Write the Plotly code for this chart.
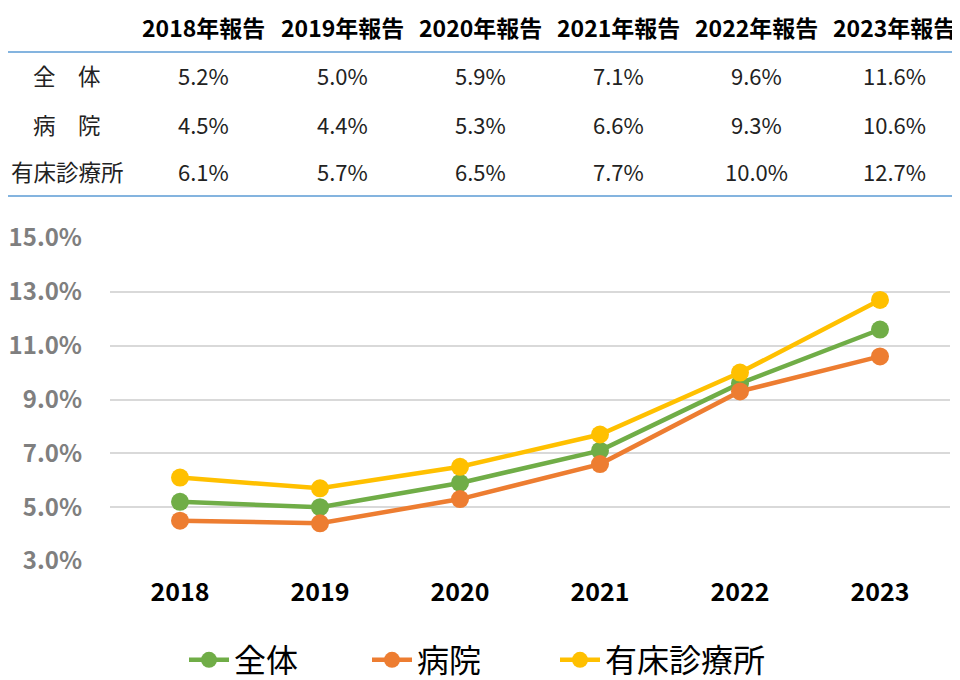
import plotly.graph_objects as go

years = ["2018", "2019", "2020", "2021", "2022", "2023"]
header_labels = ["2018年報告", "2019年報告", "2020年報告", "2021年報告", "2022年報告", "2023年報告"]
series_names = ["全体", "病院", "有床診療所"]
row_labels = ["全　体", "病　院", "有床診療所"]
zentai = [5.2, 5.0, 5.9, 7.1, 9.6, 11.6]
byoin = [4.5, 4.4, 5.3, 6.6, 9.3, 10.6]
yusho = [6.1, 5.7, 6.5, 7.7, 10.0, 12.7]
y_ticks = [3, 5, 7, 9, 11, 13, 15]

colors = ["#70AD47", "#ED7D31", "#FFC000"]
all_series = [zentai, byoin, yusho]
legend_ids = ["legend", "legend2", "legend3"]

# page has an 8px body margin; figure coordinates = page coordinates - 8
OFF = 8
W, H = 952, 672
L, R, T, B = 102, 10, 230, 119
pw = W - L - R
ph = H - T - B

def px_x(px):
    return (px - OFF - L) / pw

def px_y(py):
    return (H - B - (py - OFF)) / ph

font_family = "Noto Sans CJK JP"

fig = go.Figure()
for name, vals, c, lid in zip(series_names, all_series, colors, legend_ids):
    fig.add_trace(go.Scatter(
        x=years, y=vals, name=name, mode="lines+markers",
        line=dict(color=c, width=4.5),
        marker=dict(color=c, size=18),
        cliponaxis=False, legend=lid,
    ))

annotations = []
col_px = [203, 342, 480, 618, 756, 894]
for lab, cx in zip(header_labels, col_px):
    annotations.append(dict(text=lab, x=px_x(cx), y=px_y(27), xref="paper", yref="paper",
                            showarrow=False, xanchor="center", yanchor="middle",
                            font=dict(size=23, color="#000000", family=font_family, weight="bold")))
row_py = [75, 124, 171]
for rl, vals, ry in zip(row_labels, all_series, row_py):
    annotations.append(dict(text=rl, x=px_x(67), y=px_y(ry), xref="paper", yref="paper",
                            showarrow=False, xanchor="center", yanchor="middle",
                            font=dict(size=22.5, color="#222222", family=font_family)))
    for v, cx in zip(vals, col_px):
        annotations.append(dict(text=f"{v:.1f}%", x=px_x(cx), y=px_y(ry), xref="paper", yref="paper",
                                showarrow=False, xanchor="center", yanchor="middle",
                                font=dict(size=22, color="#222222", family=font_family)))

shapes = []
for ly in [52, 196]:
    shapes.append(dict(type="line", xref="paper", yref="paper",
                       x0=px_x(0), x1=px_x(960), y0=px_y(ly), y1=px_y(ly),
                       line=dict(color="#5B9BD5", width=1.5)))

legend_marker_px = [208, 391, 579]
legends = {}
for lid, mx in zip(legend_ids, legend_marker_px):
    legends[lid] = dict(orientation="h", xref="container", yref="container",
                        x=(mx - OFF - 24) / W, xanchor="left",
                        y=1 - (660 - OFF) / H, yanchor="middle",
                        font=dict(size=32, color="#000000", family=font_family),
                        itemwidth=40, bgcolor="rgba(0,0,0,0)")

fig.update_layout(
    width=W, height=H,
    margin=dict(l=L, r=R, t=T, b=B, autoexpand=False),
    paper_bgcolor="white", plot_bgcolor="white",
    font=dict(family=font_family),
    showlegend=True,
    annotations=annotations,
    shapes=shapes,
    xaxis=dict(type="category", range=[-0.5, 5.5], showgrid=False, showline=False, zeroline=False,
               tickfont=dict(size=25, color="#000000", family=font_family, weight="bold"),
               ticks="", ticklabelstandoff=14, automargin=False),
    yaxis=dict(range=[3, 15], tickvals=y_ticks, ticktext=[f"{v:.1f}%" for v in y_ticks],
               showgrid=True, gridcolor="#D9D9D9", gridwidth=1.5, zeroline=False, showline=False,
               tickfont=dict(size=24, color="#7F7F7F", family=font_family, weight="bold"),
               ticks="", ticklabelstandoff=27, automargin=False),
    **legends,
)

fig.write_html("out.html")
